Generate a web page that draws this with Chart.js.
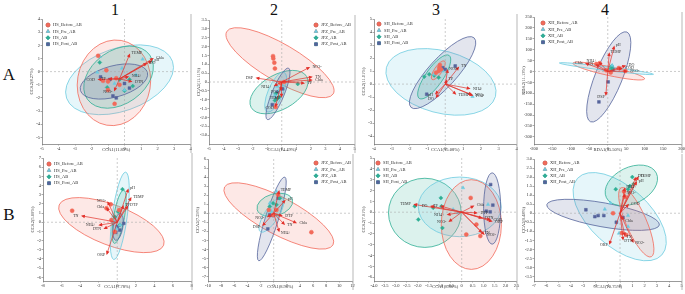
<!DOCTYPE html>
<html>
<head>
<meta charset="utf-8">
<script src="https://cdn.jsdelivr.net/npm/chart.js@4.4.1/dist/chart.umd.min.js"></script>
<style>
  body { margin: 0; background: #fff; width: 685px; height: 294px; position: relative; overflow: hidden; font-family: "Liberation Serif", serif; }
  canvas { position: absolute; }
  .hd { position: absolute; font-size: 16px; color: #111; line-height: 1; transform: translateX(-50%); }
</style>
</head>
<body>
<div class="hd" style="left:115px;top:2px">1</div>
<div class="hd" style="left:274px;top:2px">2</div>
<div class="hd" style="left:436px;top:2px">3</div>
<div class="hd" style="left:605px;top:2px">4</div>
<div class="hd" style="left:9px;top:66px;font-size:17px">A</div>
<div class="hd" style="left:9px;top:206px;font-size:17px">B</div>

<script>
// groups shared by all panels
var groupNames = ['Before_AB', 'Pre_AB', 'AB', 'Post_AB'];
var groupColors = ['#f26a5a', '#6dcbe0', '#2faf94', '#56649c'];
var groupFills = ['rgba(242,120,105,0.17)', 'rgba(109,203,224,0.17)', 'rgba(47,175,148,0.17)', 'rgba(86,100,156,0.17)'];
var groupStyles = ['circle', 'triangle', 'rectRot', 'rect'];
var arrowColor = '#e2302a';

// ---- A1 (HS) ----
var A1_before = [[-1.6,1.2],[-1.1,0.1],[-1.0,-0.75],[-0.6,-2.45],[-1.0,-1.4],[-0.3,-1.0],[-0.5,-0.5],[-1.3,-0.7]];
var A1_pre = [[-1.5,1.15],[-1.65,-0.05],[1.1,0.95],[0.7,-0.25],[-0.15,0.25],[0,-1.4],[-0.6,-0.9]];
var A1_ab = [[-1.5,0.7],[-1.05,-1.2],[0,-1.45],[-0.3,-0.6],[0.3,-0.6],[0.5,-1.1]];
var A1_post = [[-1.45,-0.4],[-0.7,-1.85],[-0.5,-2.0],[0.3,-1.25],[-0.9,-0.6],[0,-0.9]];
var A1_ellipses = [[1,-0.3,-0.62,2.91,0.78,0.56],[0,-0.64,-0.85,-0.2,2.37,0.85],[2,-0.36,-0.42,1.53,1.26,0.7],[3,-0.64,-0.75,1.39,-0.06,0.45]];
var A1_arrows = [[0.3,1.28,'TEMP'],[1.7,0.98,'Chla'],[1.6,0.78,'pH'],[1.3,0.6,'DO'],[-1.55,-0.6,'COD'],[-0.9,-0.55,'TP'],[-0.6,-1.4,'NO3-'],[0.4,-0.75,'DTN'],[0.2,-0.4,'NH4+']];
var A1_origin = [-0.3,-0.55];
var A1_xTicks = [-5,-4,-3,-2,-1,0,1,2,3,4];
var A1_yTicks = [-5,-4,-3,-2,-1,0,1,2,3,4];

// ---- A2 (JFZ) ----
var A2_before = [[-0.6,1.46],[-0.58,1.33],[-0.51,1.09],[-0.47,0.76],[0.16,0],[-0.42,-1.41],[-0.1,-0.05]];
var A2_pre = [[-0.3,-0.24],[-0.19,-0.48],[-0.47,-0.76],[0.05,-0.2]];
var A2_ab = [[1.1,-0.11],[-0.42,-0.67],[-0.3,-0.94],[-0.47,-1.04],[-0.19,-0.85]];
var A2_post = [[-0.65,-1.28],[0.05,-0.39],[-0.3,-0.57],[-0.37,-0.94]];
var A2_ellipses = [[0,-0.12,1.09,3.54,-0.67,0.3],[2,-0.19,-0.57,1.72,0.3,0.55],[1,-0.42,-0.57,0.16,0.54,0.35],[3,-0.26,-0.67,0.47,0.78,0.22]];
var A2_arrows = [[-1.7,0.22,'DSP'],[1.86,0.81,'NO3-'],[2.03,0.28,'TN'],[2.03,0.11,'Chla'],[1.5,-0.06,'TP'],[-0.47,-0.2,'NH4+'],[-0.07,-0.43,'PO4-'],[-0.02,-0.8,'TEMP'],[-0.42,-1.35,'COD']];
var A2_origin = [0,0];
var A2_xTicks = [-5,-4,-3,-2,-1,0,1,2,3,4,5];
var A2_yTicks = [-3,-2.5,-2,-1.5,-1,-0.5,0,0.5,1,1.5,2,2.5,3,3.5];

// ---- A3 (SH) ----
var A3_before = [[-0.34,1.26],[-0.37,1.0],[-0.24,1.13],[-0.52,0.88],[-0.3,1.46]];
var A3_pre = [[1.53,-0.95],[-0.15,1.0],[-0.62,0.75]];
var A3_ab = [[-1.18,0.57],[-0.9,0.75],[-0.37,0.5],[-0.62,0.67]];
var A3_post = [[-1.04,-0.78],[0.56,1.39],[-0.15,1.26],[0,1.13]];
var A3_ellipses = [[1,-0.24,0.17,2.82,-0.95,0.55],[3,-0.15,0.88,1.62,3.55,0.3],[2,-0.62,0.55,0.22,2.2,0.33],[0,-0.39,1.06,-0.04,1.77,0.35]];
var A3_arrows = [[0.73,1.26,'TN'],[0.13,1.05,'NO2-'],[0.07,0.24,'TP'],[1.34,-0.34,'NH4+'],[1.44,-0.78,'NO3-'],[1.5,-0.85,'PO4-'],[0.56,-0.73,'TEMP'],[-0.52,-0.72,'pH'],[-0.49,-0.98,'DO']];
var A3_origin = [0,0];
var A3_xTicks = [-4,-3,-2,-1,0,1,2,3,4];
var A3_yTicks = [-4,-3,-2,-1,0,1,2,3,4,5];

// ---- A4 (XH) ----
var A4_before = [[-22,38],[-4,5],[48,2],[30,16],[-31,34],[8,-5]];
var A4_pre = [[12,28],[-8,8]];
var A4_ab = [[10,24],[11,13]];
var A4_post = [[-24,-140],[1,-48],[14,9]];
var A4_ellipses = [[3,2.7,-25,52,181,0.28],[0,2.7,2,100,-34,0.12],[1,-3.6,13,124,-13,0.04],[2,10,18,14,30,0.5]];
var A4_arrows = [[17,112,'pH'],[4,81,'TEMP'],[-22,40,'NH4+'],[-58,36,'Chla'],[46,25,'DO'],[37,13,'COD'],[50,1,'NO3-'],[-5,-106,'DSP'],[-30,30,'TN']];
var A4_origin = [0,0];
var A4_xTicks = [-200,-150,-100,-50,0,50,100,150,200];
var A4_yTicks = [-300,-250,-200,-150,-100,-50,0,50,100,150,200,250];

// ---- B1 (HS) ----
var B1_before = [[-4.86,1.26],[-1.16,1.52],[-0.7,1.95],[0.2,1.33],[-0.27,-1.04],[-0.63,0.24]];
var B1_pre = [[-0.1,-0.67],[0.45,0.78],[-0.27,0.06],[0.3,-0.3]];
var B1_ab = [[0.56,3.6],[0.27,-0.3],[-0.27,0.6],[0.09,1.15]];
var B1_post = [[0.7,-0.12],[0.27,-0.85],[0,-0.49],[-0.16,-1.1]];
var B1_ellipses = [[0,-0.63,-0.31,5.0,-2.5,0.36],[1,0.27,0.7,0.91,5.46,0.17],[2,0.2,0.6,0.7,3.5,0.2],[3,0.09,-0.5,0.34,0.97,0.35]];
var B1_arrows = [[1.16,3.53,'pH'],[1.45,2.6,'TEMP'],[-0.99,2.15,'NO3-'],[-3.75,0.68,'TN'],[-1.88,-0.3,'NH4+'],[-1.34,-0.67,'DTN'],[-1.1,-3.4,'ORP'],[0.63,1.72,'TP'],[1.1,1.7,'DTP'],[-1.1,1.5,'Chla']];
var B1_origin = [0,0];
var B1_xTicks = [-8,-6,-4,-2,0,2,4,6,8];
var B1_yTicks = [-6,-5,-4,-3,-2,-1,0,1,2,3,4,5,6,7];

// ---- B2 (JFZ) ----
var B2_before = [[5.74,-2.1],[0.67,2.04],[-0.09,-0.19],[0.42,0.37],[-0.74,0.37]];
var B2_pre = [[0.42,2.4],[-0.6,1.1],[-0.34,0.19]];
var B2_ab = [[-0.09,1.1],[0.93,1.67],[-0.6,0.74],[0.42,0.93]];
var B2_post = [[-0.9,-1.74],[0.67,1.67],[-0.09,-0.26],[-0.6,-0.19]];
var B2_ellipses = [[0,0.78,-0.3,9.04,-3.5,0.3],[3,-0.29,-0.63,1.69,4.0,0.15],[2,0.17,0.93,2.85,1.48,0.6],[1,-0.34,-0.19,1.33,1.67,0.35]];
var B2_arrows = [[0.8,2.4,'TEMP'],[1.67,1.37,'pH'],[3.35,-1.04,'Chla'],[1.57,-1.19,'TN'],[0.8,-1.96,'NH4+'],[-1.6,-1.3,'DSP'],[-0.86,-0.37,'NO3-'],[1.17,-0.26,'DTP']];
var B2_origin = [0,0];
var B2_xTicks = [-10,-8,-6,-4,-2,0,2,4,6,8,10,12];
var B2_yTicks = [-7,-6,-5,-4,-3,-2,-1,0,1,2,3,4,5,6];

// ---- B3 (SH) ----
var B3_before = [[0.41,1.32],[0.21,-2.06],[0.67,-1.14],[0.85,-2.2]];
var B3_pre = [[0.06,2.25],[1.2,0.71],[-0.39,0.25],[-0.17,-0.06]];
var B3_ab = [[-2.14,0.55],[-0.95,1.32],[-1.98,-0.68],[-0.88,-1.45],[-1.3,0.4],[-0.92,0.55]];
var B3_post = [[1.32,2.55],[1.42,0.65],[1.3,0.03],[1.12,0.09]];
var B3_ellipses = [[2,-1.68,-0.06,-0.02,-0.06,0.95],[1,-0.09,0.49,1.8,0.49,0.72],[0,0.44,-1.14,0.44,3.0,0.67],[3,1.39,0.34,1.39,3.63,0.24]];
var B3_arrows = [[-2.14,0.71,'TEMP'],[-1.38,0.55,'DO'],[-0.92,0.55,'TP'],[-0.62,-0.22,'NH4+'],[-0.55,-0.83,'NO3-'],[0.52,0.55,'Chla'],[0.89,-0.52,'DTN'],[1.27,-0.68,'COD'],[0.89,-1.82,'TN'],[1.0,-2.0,'NO2-'],[1.35,-0.83,'ORP'],[0.67,-0.06,'DTP']];
var B3_origin = [0,0];
var B3_xTicks = [-4,-3.5,-3,-2.5,-2,-1.5,-1,-0.5,0,0.5,1,1.5,2,2.5];
var B3_yTicks = [-6,-5,-4,-3,-2,-1,0,1,2,3,4,5];

// ---- B4 (XH) ----
var B4_before = [[0.32,1.2],[-0.57,0],[0.51,-1.2],[0.15,-1.1],[0.4,0.9]];
var B4_pre = [[-1.24,0.22],[-0.78,0.56],[0.65,-0.13],[0.65,-0.74],[-0.08,-1.11]];
var B4_ab = [[1.0,2.0],[-0.35,1.33],[0.65,1.33],[1.1,1.61],[0.8,1.5]];
var B4_post = [[-2.78,0.19],[-2.05,-0.19],[-1.78,-0.13],[-1.32,-0.13],[-0.3,-0.5],[0.24,-0.24]];
var B4_ellipses = [[1,-0.03,-0.19,3.4,-2.31,0.52],[3,-1.38,-0.09,3.2,-0.65,0.21],[2,0.92,1.54,2.95,2.22,0.65],[0,1.32,-0.5,2.54,-2.41,0.27]];
var B4_arrows = [[1.46,1.98,'TEMP'],[1.27,1.94,'DO'],[1.32,1.7,'pH'],[0.38,1.35,'NH4+'],[0.38,1.02,'NO3-'],[0.65,0.46,'COD'],[0.24,-0.33,'Chla'],[-0.84,-1.67,'ORP'],[1.05,-1.57,'NO2-'],[0.38,-1.2,'TN'],[0.24,-1.43,'DTN']];
var B4_origin = [0,0];
var B4_xTicks = [-7,-6,-5,-4,-3,-2,-1,0,1,2,3,4,5];
var B4_yTicks = [-3.5,-3,-2.5,-2,-1.5,-1,-0.5,0,0.5,1,1.5,2,2.5,3];

// panel layout (page pixels of plot area) and axis settings
var panels = [
  {site:'HS',  rect:[42,19,191,144],  x:[-5,4],     y:[-5.5,4],   xt:A1_xTicks, yt:A1_yTicks, xTitle:'CCA1(11.83%)', yTitle:'CCA2(8.27%)',
   pts:[A1_before,A1_pre,A1_ab,A1_post], ell:A1_ellipses, arr:A1_arrows, org:A1_origin, leg:[6,6]},
  {site:'JFZ', rect:[209,20,355,144], x:[-5,5],     y:[-3.5,3.5], xt:A2_xTicks, yt:A2_yTicks, xTitle:'CCA1(14.49%)', yTitle:'CCA2(11.11%)',
   pts:[A2_before,A2_pre,A2_ab,A2_post], ell:A2_ellipses, arr:A2_arrows, org:A2_origin, leg:[107,5]},
  {site:'SH',  rect:[374,19,517,144], x:[-4,4],     y:[-4.6,5],   xt:A3_xTicks, yt:A3_yTicks, xTitle:'CCA1(15.08%)', yTitle:'CCA2(11.01%)',
   pts:[A3_before,A3_pre,A3_ab,A3_post], ell:A3_ellipses, arr:A3_arrows, org:A3_origin, leg:[5,5]},
  {site:'XH',  rect:[534,17,682,144], x:[-200,200], y:[-333,250], xt:A4_xTicks, yt:A4_yTicks, xTitle:'RDA1(35.50%)', yTitle:'RDA2(11.13%)',
   pts:[A4_before,A4_pre,A4_ab,A4_post], ell:A4_ellipses, arr:A4_arrows, org:A4_origin, leg:[9,6]},
  {site:'HS',  rect:[43,158,192,281], x:[-8,8],     y:[-6.4,7],   xt:B1_xTicks, yt:B1_yTicks, xTitle:'CCA1(7.78%)', yTitle:'CCA2(5.69%)',
   pts:[B1_before,B1_pre,B1_ab,B1_post], ell:B1_ellipses, arr:B1_arrows, org:B1_origin, leg:[6,6]},
  {site:'JFZ', rect:[208,159,353,281], x:[-10,12],  y:[-7.5,6],   xt:B2_xTicks, yt:B2_yTicks, xTitle:'CCA1(8.95%)', yTitle:'CCA2(7.29%)',
   pts:[B2_before,B2_pre,B2_ab,B2_post], ell:B2_ellipses, arr:B2_arrows, org:B2_origin, leg:[108,4]},
  {site:'SH',  rect:[374,158,517,281], x:[-4,2.5],  y:[-6.35,5], xt:B3_xTicks, yt:B3_yTicks, xTitle:'CCA1(8.66%)', yTitle:'CCA2(7.91%)',
   pts:[B3_before,B3_pre,B3_ab,B3_post], ell:B3_ellipses, arr:B3_arrows, org:B3_origin, leg:[4,5]},
  {site:'XH',  rect:[534,159,682,281], x:[-7,5],    y:[-3.75,3],  xt:B4_xTicks, yt:B4_yTicks, xTitle:'CCA1(10.75%)', yTitle:'CCA2(9.48%)',
   pts:[B4_before,B4_pre,B4_ab,B4_post], ell:B4_ellipses, arr:B4_arrows, org:B4_origin, leg:[11,4]}
];

var YW = 13, PT = 5, PR = 4, XH = 9;
var FONT = 'Liberation Serif';

function panelPlugin(p) {
  return {
    id: 'panelDeco',
    beforeDatasetsDraw: function (chart) {
      var ctx = chart.ctx, a = chart.chartArea, xs = chart.scales.x, ys = chart.scales.y;
      ctx.save();
      ctx.beginPath();
      ctx.rect(a.left, a.top, a.right - a.left, a.bottom - a.top);
      ctx.clip();
      p.ell.forEach(function (e) {
        var cx = xs.getPixelForValue(e[1]), cy = ys.getPixelForValue(e[2]);
        var ex = xs.getPixelForValue(e[3]), ey = ys.getPixelForValue(e[4]);
        var ra = Math.hypot(ex - cx, ey - cy), ang = Math.atan2(ey - cy, ex - cx);
        ctx.beginPath();
        ctx.ellipse(cx, cy, ra, ra * e[5], ang, 0, Math.PI * 2);
        ctx.fillStyle = groupFills[e[0]];
        ctx.fill();
        ctx.strokeStyle = groupColors[e[0]];
        ctx.lineWidth = 0.8;
        ctx.stroke();
      });
      // dashed zero lines
      ctx.setLineDash([2, 2]);
      ctx.strokeStyle = '#aaaaaa';
      ctx.lineWidth = 0.6;
      var x0 = xs.getPixelForValue(0), y0 = ys.getPixelForValue(0);
      ctx.beginPath();
      ctx.moveTo(x0, a.top); ctx.lineTo(x0, a.bottom);
      ctx.moveTo(a.left, y0); ctx.lineTo(a.right, y0);
      ctx.stroke();
      ctx.restore();
    },
    afterDatasetsDraw: function (chart) {
      var ctx = chart.ctx, xs = chart.scales.x, ys = chart.scales.y;
      var ox = xs.getPixelForValue(p.org[0]), oy = ys.getPixelForValue(p.org[1]);
      ctx.save();
      p.arr.forEach(function (r) {
        var tx = xs.getPixelForValue(r[0]), ty = ys.getPixelForValue(r[1]);
        var ang = Math.atan2(ty - oy, tx - ox);
        ctx.strokeStyle = arrowColor;
        ctx.fillStyle = arrowColor;
        ctx.lineWidth = 0.7;
        ctx.beginPath();
        ctx.moveTo(ox, oy); ctx.lineTo(tx, ty);
        ctx.stroke();
        ctx.beginPath();
        ctx.moveTo(tx + Math.cos(ang) * 1.5, ty + Math.sin(ang) * 1.5);
        ctx.lineTo(tx + Math.cos(ang + 2.5) * 3, ty + Math.sin(ang + 2.5) * 3);
        ctx.lineTo(tx + Math.cos(ang - 2.5) * 3, ty + Math.sin(ang - 2.5) * 3);
        ctx.closePath();
        ctx.fill();
        ctx.fillStyle = '#333';
        ctx.font = '4px "' + FONT + '"';
        ctx.textBaseline = 'middle';
        ctx.textAlign = Math.cos(ang) >= 0 ? 'left' : 'right';
        ctx.fillText(r[2], tx + Math.cos(ang) * 3 + (Math.cos(ang) >= 0 ? 1 : -1), ty + Math.sin(ang) * 2);
      });
      ctx.restore();
    },
    afterDraw: function (chart) {
      var ctx = chart.ctx, a = chart.chartArea;
      ctx.save();
      // right frame line
      ctx.strokeStyle = '#9a9a9a';
      ctx.lineWidth = 0.7;
      ctx.beginPath();
      ctx.moveTo(a.right + 0.5, 0); ctx.lineTo(a.right + 0.5, chart.height);
      ctx.stroke();
      // legend inside plot
      var lx = a.left + p.leg[0], ly = a.top + p.leg[1];
      chart.data.datasets.forEach(function (ds, i) {
        var yy = ly + i * 6.4;
        Chart.helpers.drawPoint(ctx, {pointStyle: groupStyles[i], radius: 2, rotation: 0, borderWidth: 0.5}, lx, yy);
        ctx.fillStyle = groupColors[i];
        ctx.strokeStyle = groupColors[i];
        Chart.helpers.drawPoint(ctx, {pointStyle: groupStyles[i], radius: 2, rotation: 0, borderWidth: 0.5}, lx, yy);
        ctx.fillStyle = '#333';
        ctx.font = '4.5px "' + FONT + '"';
        ctx.textAlign = 'left';
        ctx.textBaseline = 'middle';
        ctx.fillText(ds.label, lx + 5, yy);
      });
      ctx.restore();
    }
  };
}

function axis(range, ticks, title, isX) {
  return {
    type: 'linear',
    min: range[0],
    max: range[1],
    afterBuildTicks: function (s) { s.ticks = ticks.map(function (v) { return {value: v}; }); },
    afterFit: function (s) { if (isX) { s.height = XH; } else { s.width = YW; } },
    grid: {display: true, drawOnChartArea: false, tickLength: 1.5, color: '#555', lineWidth: 0.5},
    border: {display: true, color: '#555', width: 0.6},
    ticks: {autoSkip: false, maxRotation: 0, padding: 0.5, color: '#333', font: {family: FONT, size: 4.5}},
    title: {display: true, text: title, color: '#333', padding: 0, font: {family: FONT, size: 4.5}}
  };
}

panels.forEach(function (p) {
  var cv = document.createElement('canvas');
  var w = p.rect[2] - p.rect[0] + YW + PR;
  var h = p.rect[3] - p.rect[1] + PT + XH;
  cv.width = w; cv.height = h;
  cv.style.left = (p.rect[0] - YW) + 'px';
  cv.style.top = (p.rect[1] - PT) + 'px';
  cv.style.width = w + 'px'; cv.style.height = h + 'px';
  document.body.appendChild(cv);

  var datasets = p.pts.map(function (arr, i) {
    return {
      label: p.site + '_' + groupNames[i],
      data: arr.map(function (d) { return {x: d[0], y: d[1]}; }),
      pointStyle: groupStyles[i],
      pointRadius: 2,
      backgroundColor: groupColors[i],
      borderColor: groupColors[i],
      borderWidth: 0.5
    };
  });

  new Chart(cv, {
    type: 'scatter',
    data: {datasets: datasets},
    options: {
      responsive: false,
      animation: false,
      devicePixelRatio: 1,
      layout: {padding: {top: PT, right: PR, left: 0, bottom: 0}},
      plugins: {legend: {display: false}, tooltip: {enabled: false}},
      scales: {
        x: axis(p.x, p.xt, p.xTitle, true),
        y: axis(p.y, p.yt, p.yTitle, false)
      }
    },
    plugins: [panelPlugin(p)]
  });
});
</script>
</body>
</html>
